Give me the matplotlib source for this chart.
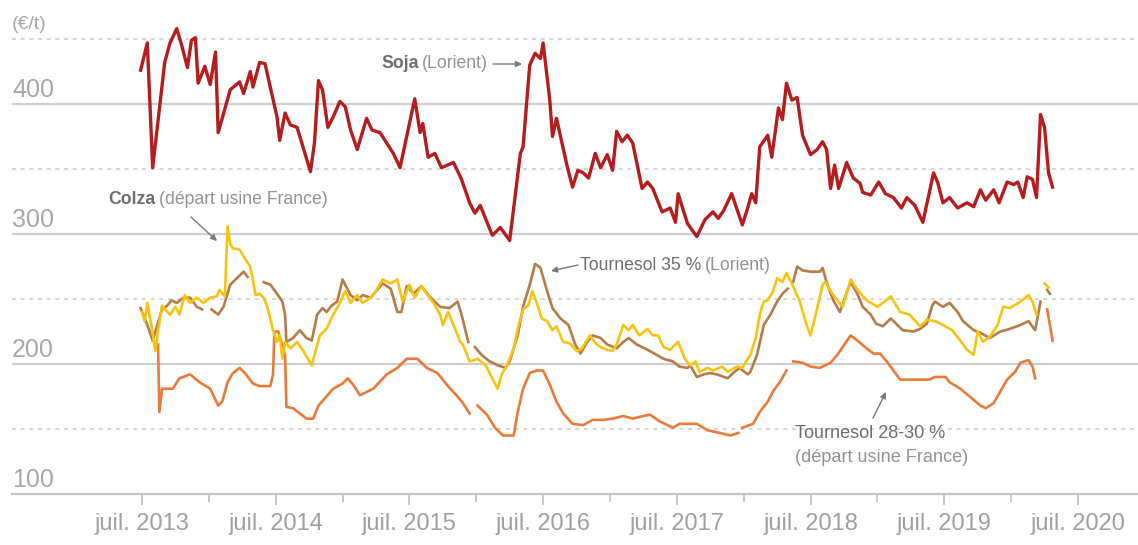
import numpy as np
import matplotlib
matplotlib.use("Agg")
import matplotlib.pyplot as plt
from matplotlib import font_manager

nan = np.nan

# ---------------- data (decimal years, €/t) ----------------
soja_t = [2013.49, 2013.54, 2013.58, 2013.67, 2013.71, 2013.76, 2013.80, 2013.84, 2013.87, 2013.90,
          2013.92, 2013.97, 2014.01, 2014.05, 2014.07, 2014.16, 2014.23, 2014.26, 2014.31, 2014.33,
          2014.38, 2014.42, 2014.51, 2014.53, 2014.57, 2014.61, 2014.66, 2014.76, 2014.79, 2014.82,
          2014.85, 2014.89, 2014.93, 2014.98, 2015.02, 2015.06, 2015.11, 2015.18, 2015.22, 2015.28,
          2015.38, 2015.43, 2015.48, 2015.54, 2015.58, 2015.60, 2015.64, 2015.69, 2015.74, 2015.83,
          2015.89, 2015.95, 2015.99, 2016.03, 2016.12, 2016.18, 2016.25, 2016.33, 2016.35, 2016.40,
          2016.44, 2016.48, 2016.50, 2016.53, 2016.55, 2016.57, 2016.60, 2016.68, 2016.72, 2016.76,
          2016.80, 2016.84, 2016.89, 2016.93, 2016.98, 2017.02, 2017.05, 2017.09, 2017.13, 2017.17,
          2017.24, 2017.28, 2017.32, 2017.39, 2017.45, 2017.49, 2017.51, 2017.54, 2017.58, 2017.65,
          2017.71, 2017.77, 2017.81, 2017.85, 2017.91, 2017.96, 2017.99, 2018.03, 2018.06, 2018.09,
          2018.12, 2018.18, 2018.21, 2018.26, 2018.29, 2018.32, 2018.36, 2018.40, 2018.44, 2018.50,
          2018.55, 2018.59, 2018.62, 2018.65, 2018.68, 2018.71, 2018.77, 2018.82, 2018.87, 2018.89,
          2018.95, 2019.01, 2019.06, 2019.12, 2019.18, 2019.22, 2019.28, 2019.34, 2019.42, 2019.45,
          2019.49, 2019.54, 2019.60, 2019.67, 2019.72, 2019.77, 2019.81, 2019.87, 2019.91, 2019.97,
          2020.02, 2020.05, 2020.09, 2020.12, 2020.16, 2020.19, 2020.22, 2020.25, 2020.28, 2020.31]
soja_v = [426, 447, 351, 432, 447, 458, 444, 428, 449, 451,
          416, 429, 415, 440, 378, 411, 417, 408, 425, 413,
          432, 431, 390, 372, 393, 384, 382, 348, 370, 418,
          411, 382, 390, 402, 398, 380, 365, 389, 380, 378,
          362, 351, 375, 404, 378, 385, 359, 362, 351, 355,
          342, 324, 316, 322, 299, 305, 295, 362, 367, 430,
          439, 435, 447, 421, 403, 375, 389, 352, 336, 349,
          347, 343, 362, 351, 361, 349, 379, 371, 376, 370,
          335, 340, 335, 317, 320, 309, 331, 321, 308, 298,
          311, 317, 312, 318, 331, 316, 307, 320, 331, 324,
          367, 376, 359, 397, 388, 416, 403, 405, 376, 361,
          365, 371, 365, 335, 353, 335, 355, 343, 339, 332,
          330, 340, 331, 328, 320, 328, 322, 309, 347, 340,
          324, 328, 320, 324, 321, 334, 326, 334, 324, 340,
          338, 340, 328, 344, 342, 328, 392, 382, 347, 336]

colza_t = [2013.50, 2013.52, 2013.54, 2013.57, 2013.60, 2013.62, 2013.65, 2013.69, 2013.71, 2013.75,
           2013.78, 2013.82, 2013.86, 2013.91, 2013.96, 2014.01, 2014.06, 2014.08, 2014.12, 2014.14,
           2014.16, 2014.18, 2014.23, 2014.27, 2014.31, 2014.35, 2014.38, 2014.41, 2014.44, 2014.48,
           2014.51, 2014.53, 2014.55, 2014.57, 2014.61, 2014.66, 2014.70, 2014.77, 2014.79, 2014.83,
           2014.88, 2014.93, 2014.97, 2015.02, 2015.06, 2015.11, 2015.15, 2015.21, 2015.23, 2015.30,
           2015.36, 2015.41, 2015.45, 2015.50, 2015.54, 2015.59, 2015.63, 2015.68, 2015.73, 2015.75,
           2015.79, 2015.83, 2015.88, 2015.90, 2015.95, 2016.01, 2016.07, 2016.12, 2016.16, 2016.19,
           2016.23, 2016.28, 2016.31, 2016.35, 2016.39, 2016.42, 2016.46, 2016.49, 2016.53, 2016.57,
           2016.60, 2016.65, 2016.70, 2016.75, 2016.79, 2016.85, 2016.90, 2016.95, 2017.02, 2017.05,
           2017.10, 2017.14, 2017.17, 2017.22, 2017.28, 2017.32, 2017.36, 2017.40, 2017.45, 2017.51,
           2017.56, 2017.60, 2017.64, 2017.67, 2017.73, 2017.77, 2017.84, 2017.88, 2017.95, 2017.99,
           2018.05, 2018.09, 2018.12, 2018.15, 2018.18, 2018.22, 2018.25, 2018.29, 2018.32, 2018.36,
           2018.42, 2018.47, 2018.50, 2018.55, 2018.59, 2018.61, 2018.67, 2018.74, 2018.80, 2018.85,
           2018.92, 2019.00, 2019.04, 2019.10, 2019.17, 2019.24, 2019.32, 2019.37, 2019.43, 2019.49,
           2019.56, 2019.62, 2019.67, 2019.72, 2019.75, 2019.79, 2019.84, 2019.90, 2019.94, 2019.99,
           2020.07, 2020.13, 2020.16, 2020.19, 2020.22, 2020.25, 2020.28]
colza_v = [240, 233, 247, 230, 210, 225, 245, 240, 238, 244,
           238, 253, 247, 251, 247, 251, 252, 257, 252, 306,
           292, 289, 288, 281, 275, 253, 254, 251, 243, 226,
           217, 222, 204, 217, 212, 217, 211, 199, 207, 222,
           227, 238, 245, 256, 247, 253, 247, 251, 253, 265,
           262, 265, 248, 261, 251, 260, 254, 247, 238, 230,
           240, 230, 217, 215, 202, 204, 199, 189, 181, 192,
           199, 212, 227, 242, 245, 256, 245, 235, 233, 226,
           229, 217, 216, 210, 212, 222, 215, 212, 210, 215,
           230, 226, 230, 222, 227, 222, 222, 213, 211, 217,
           204, 199, 202, 194, 197, 195, 198, 194, 198, 197,
           207, 220, 238, 248, 249, 256, 266, 263, 270, 262,
           248, 230, 222, 243, 261, 263, 253, 244, 265, 257,
           249, 244, 247, 252, 240, 238, 229, 234, 233, 230,
           226, 218, 211, 207, 225, 217, 221, 230, 244, 243,
           248, 253, 248, 238, nan, 262, 259]

tournesol35_t = [2013.49, 2013.54, 2013.58, 2013.65, 2013.69, 2013.72, 2013.76, 2013.81, 2013.86, 2013.91,
                 2013.95, 2013.98, 2014.02, 2014.07, 2014.11, 2014.16, 2014.21, 2014.26, 2014.29, 2014.35,
                 2014.41, 2014.46, 2014.51, 2014.55, 2014.57, 2014.58, 2014.63, 2014.68, 2014.73, 2014.77,
                 2014.81, 2014.85, 2014.88, 2014.92, 2014.96, 2015.00, 2015.06, 2015.11, 2015.15, 2015.21,
                 2015.30, 2015.36, 2015.41, 2015.44, 2015.48, 2015.53, 2015.59, 2015.65, 2015.73, 2015.80,
                 2015.86, 2015.89, 2015.94, 2015.96, 2015.99, 2016.04, 2016.10, 2016.16, 2016.22, 2016.25,
                 2016.31, 2016.35, 2016.40, 2016.44, 2016.48, 2016.53, 2016.57, 2016.63, 2016.69, 2016.74,
                 2016.78, 2016.83, 2016.87, 2016.93, 2016.98, 2017.05, 2017.10, 2017.14, 2017.20, 2017.28,
                 2017.35, 2017.40, 2017.47, 2017.52, 2017.58, 2017.60, 2017.65, 2017.70, 2017.75, 2017.80,
                 2017.88, 2017.92, 2017.97, 2018.03, 2018.05, 2018.10, 2018.15, 2018.20, 2018.25, 2018.29,
                 2018.33, 2018.35, 2018.37, 2018.40, 2018.44, 2018.50, 2018.57, 2018.59, 2018.62, 2018.67,
                 2018.72, 2018.76, 2018.80, 2018.85, 2018.89, 2018.95, 2018.99, 2019.04, 2019.10, 2019.15,
                 2019.19, 2019.27, 2019.32, 2019.37, 2019.41, 2019.43, 2019.49, 2019.54, 2019.60, 2019.64,
                 2019.72, 2019.77, 2019.84, 2019.92, 2019.99, 2020.07, 2020.13, 2020.18, 2020.22, 2020.24,
                 2020.27, 2020.29]
tournesol35_v = [243, 230, 218, 242, 245, 249, 247, 251, 251, 244,
                 242, nan, 242, 238, 244, 261, 266, 271, 267, nan,
                 263, 261, 254, 248, 238, 217, 220, 226, 220, 218,
                 238, 243, 240, 245, 248, 265, 253, 249, 253, 251,
                 262, 258, 240, 240, 260, 254, 260, 252, 244, 243,
                 248, 238, 217, nan, 213, 207, 202, 199, 197, 202,
                 222, 244, 261, 277, 274, 256, 243, 235, 230, 215,
                 208, 217, 222, 220, 215, 212, 217, 220, 215, 211,
                 207, 204, 202, 198, 197, 199, 190, 192, 193, 192,
                 189, 193, 197, 192, 194, 207, 230, 238, 248, 254,
                 258, nan, 263, 275, 272, 271, 271, 274, 263, 249,
                 240, 252, 263, 254, 244, 238, 231, 229, 235, 230,
                 226, 225, 227, 231, 245, 248, 244, 247, 240, 233,
                 226, 224, 220, 225, 227, 230, 233, 226, 248, nan,
                 257, 254]

tournesol28_t = [2013.62, 2013.63, 2013.65, 2013.73, 2013.78, 2013.86, 2013.93, 2014.01, 2014.07, 2014.10,
                 2014.14, 2014.18, 2014.23, 2014.27, 2014.33, 2014.38, 2014.46, 2014.48, 2014.49, 2014.52,
                 2014.57, 2014.58, 2014.63, 2014.68, 2014.73, 2014.78, 2014.82, 2014.88, 2014.93, 2015.00,
                 2015.04, 2015.08, 2015.13, 2015.23, 2015.33, 2015.41, 2015.48, 2015.56, 2015.63, 2015.71,
                 2015.78, 2015.86, 2015.90, 2015.95, 2015.98, 2016.01, 2016.08, 2016.14, 2016.20, 2016.28,
                 2016.31, 2016.35, 2016.40, 2016.45, 2016.50, 2016.55, 2016.60, 2016.65, 2016.72, 2016.80,
                 2016.87, 2016.95, 2017.02, 2017.10, 2017.17, 2017.25, 2017.30, 2017.37, 2017.47, 2017.52,
                 2017.60, 2017.65, 2017.73, 2017.82, 2017.90, 2017.96, 2017.98, 2017.99, 2018.07, 2018.12,
                 2018.18, 2018.22, 2018.27, 2018.32, 2018.35, 2018.37, 2018.44, 2018.50, 2018.57, 2018.65,
                 2018.70, 2018.74, 2018.80, 2018.85, 2018.92, 2018.97, 2019.02, 2019.07, 2019.12, 2019.17,
                 2019.27, 2019.39, 2019.43, 2019.51, 2019.54, 2019.62, 2019.69, 2019.77, 2019.81, 2019.87,
                 2019.92, 2019.97, 2020.03, 2020.07, 2020.13, 2020.16, 2020.18, 2020.22, 2020.27, 2020.31]
tournesol28_v = [215, 163, 181, 181, 189, 192, 186, 181, 168, 171,
                 186, 193, 197, 193, 185, 183, 183, 192, 225, 225,
                 207, 167, 166, 162, 158, 158, 168, 175, 181, 185,
                 189, 184, 176, 181, 192, 197, 204, 204, 197, 193,
                 184, 175, 170, 162, nan, 168, 161, 151, 145, 145,
                 163, 181, 193, 195, 195, 184, 171, 162, 154, 153,
                 157, 157, 158, 160, 158, 160, 161, 156, 151, 154,
                 154, 154, 149, 147, 145, 147, nan, 151, 154, 163,
                 171, 179, 186, 195, nan, 202, 201, 198, 197, 201,
                 207, 213, 222, 218, 212, 208, 208, 202, 195, 188,
                 188, 188, 190, 190, 186, 181, 175, 168, 166, 170,
                 179, 188, 194, 201, 203, 198, 189, nan, 242, 218]

solid_grid = [200, 300, 400]
dashed_grid = [150, 250, 350, 450]
y_labels = [100, 200, 300, 400]
tick_years = [2013, 2014, 2015, 2016, 2017, 2018, 2019, 2020]
minor_years = [2014, 2015, 2016, 2017, 2018, 2019, 2020]

# ---------------- styling ----------------
C_SOJA = "#b51c1e"
C_COLZA = "#f6c40f"
C_T35 = "#b47c48"
C_T28 = "#ea7a3a"
GRID = "#cfcfcf"
LABEL = "#a8a8a8"
REG = ["Liberation Sans", "DejaVu Sans"]

_names = {f.name for f in font_manager.fontManager.ttflist}
if "Liberation Sans Narrow" in _names:
    NARROW = ["Liberation Sans Narrow", "DejaVu Sans"]
    ASIZE = 14.5
else:
    NARROW = REG
    ASIZE = 12.7

W, H = 1138, 545
fig = plt.figure(figsize=(W / 100, H / 100), dpi=100)
ax = fig.add_axes([12 / W, 51 / H, 1126 / W, 494 / H])
ax.set_xlim(2012.528, 2020.949)
ax.set_ylim(100, 480)

for s in ["top", "right", "left"]:
    ax.spines[s].set_visible(False)
ax.spines["bottom"].set_color("#c6c6c6")
ax.spines["bottom"].set_linewidth(1.6)

for g in solid_grid:
    ax.axhline(g, color=GRID, lw=1.6, zorder=1)
for g in dashed_grid:
    ax.axhline(g, color="#d4d4d4", lw=1.3, ls=(0, (2.2, 2.6)), zorder=1)

ax.set_yticks([])
for v in y_labels:
    ax.annotate(str(v), xy=(0, v), xycoords=("axes fraction", "data"),
                xytext=(0, 1.5), textcoords="offset points",
                ha="left", va="bottom", fontsize=18, color=LABEL, family=REG)
ax.text(0, 461, "(€/t)", transform=ax.get_yaxis_transform(), ha="left", va="center",
        fontsize=14, color=LABEL, family=REG)

ax.set_xticks([y + 0.5 for y in tick_years])
ax.set_xticklabels([f"juil. {y}" for y in tick_years], fontsize=17, color="#a0a0a0", family=REG)
ax.set_xticks(minor_years, minor=True)
ax.tick_params(axis="x", which="major", length=8, width=1.2, color="#bdbdbd", pad=6)
ax.tick_params(axis="x", which="minor", length=6, width=1.2, color="#bdbdbd")

# ---------------- series ----------------
ax.plot(tournesol35_t, tournesol35_v, color=C_T35, lw=1.9, zorder=3, solid_joinstyle="round")
ax.plot(colza_t, colza_v, color=C_COLZA, lw=1.9, zorder=4, solid_joinstyle="round")
ax.plot(tournesol28_t, tournesol28_v, color=C_T28, lw=1.9, zorder=3, solid_joinstyle="round")
ax.plot(soja_t, soja_v, color=C_SOJA, lw=2.4, zorder=5, solid_joinstyle="round")

# ---------------- annotations ----------------
def fx(px):
    return px / W


def fy(py):
    return 1 - py / H


def two_part(x, y, bold_txt, rest_txt, dark="#6e6e6e", light="#939393", bold=True, size=ASIZE):
    t1 = fig.text(fx(x), fy(y), bold_txt, ha="left", va="center", fontsize=size,
                  color=dark, family=NARROW, fontweight="bold" if bold else "normal")
    ax.annotate(rest_txt, xy=(1, 0.5), xycoords=t1, xytext=(2.5, 0), textcoords="offset points",
                ha="left", va="center", fontsize=size, color=light, family=NARROW,
                annotation_clip=False)


def arrow(x0, y0, x1, y1):
    ax.annotate("", xy=(fx(x1), fy(y1)), xycoords="figure fraction",
                xytext=(fx(x0), fy(y0)), textcoords="figure fraction",
                arrowprops=dict(arrowstyle="-|>", color="#7a7a7a", lw=1.0,
                                mutation_scale=9, shrinkA=0, shrinkB=0),
                annotation_clip=False)


two_part(381, 64, "Soja", "(Lorient)")
arrow(493, 64, 522, 64)

two_part(108, 200, "Colza", "(départ usine France)")
arrow(191, 217, 217, 241)

two_part(580, 265, "Tournesol 35 %", "(Lorient)", bold=False)
arrow(578, 265, 551, 271)

fig.text(fx(795), fy(433), "Tournesol 28-30 %", ha="left", va="center", fontsize=ASIZE + 0.4,
         color="#6e6e6e", family=NARROW)
fig.text(fx(795), fy(458), "(départ usine France)", ha="left", va="center", fontsize=ASIZE + 0.4,
         color="#939393", family=NARROW)
arrow(873, 418, 886, 392)

fig.savefig("out.png", dpi=100)
